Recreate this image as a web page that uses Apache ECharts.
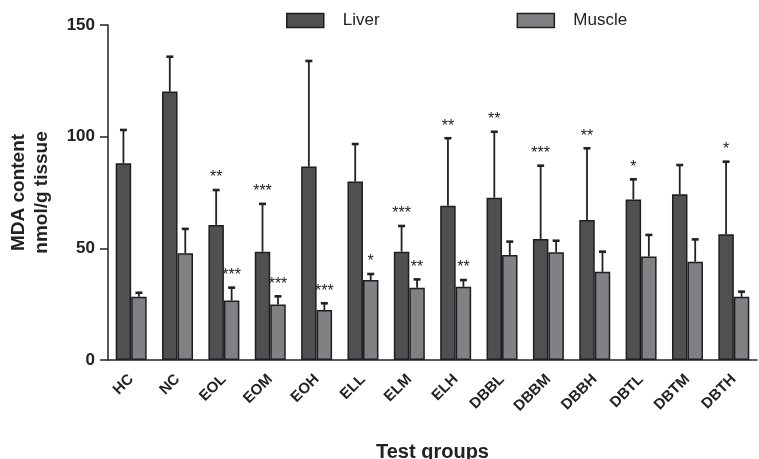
<!DOCTYPE html>
<html>
<head>
<meta charset="utf-8">
<script src="https://cdn.jsdelivr.net/npm/echarts@6/dist/echarts.min.js"></script>
<style>
  html, body { margin: 0; padding: 0; background: #fff; }
  #main { width: 759px; height: 459px; }
</style>
</head>
<body>
<div id="main"></div>
<script>
var categories = ['HC', 'NC', 'EOL', 'EOM', 'EOH', 'ELL', 'ELM', 'ELH', 'DBBL', 'DBBM', 'DBBH', 'DBTL', 'DBTM', 'DBTH'];
var liver = [88.1, 120.2, 60.5, 48.5, 86.6, 79.9, 48.5, 69.1, 72.7, 54.2, 62.7, 71.9, 74.2, 56.3];
var liverErr = [14.9, 15.6, 15.6, 21.4, 47.3, 16.8, 11.5, 30.2, 29.5, 32.8, 32.1, 9.0, 13.1, 32.5];
var muscle = [28.3, 47.8, 26.6, 24.9, 22.4, 35.8, 32.4, 32.8, 47.0, 48.2, 39.5, 46.3, 44.0, 28.3];
var muscleErr = [1.8, 10.9, 5.8, 3.6, 3.0, 2.7, 3.7, 3.0, 6.0, 5.2, 9.0, 9.7, 10.0, 2.3];
var liverSig = ['', '', '**', '***', '', '', '***', '**', '**', '***', '**', '*', '', '*'];
var muscleSig = ['', '', '***', '***', '***', '*', '**', '**', '', '', '', '', '', ''];
var yTicks = [0, 50, 100, 150];

var font = 'Liberation Sans, Arial, Helvetica, sans-serif';
var chart = echarts.init(document.getElementById('main'));

function errData(vals, errs, sig) {
	return vals.map(function (v, i) {
		return [i, v, v + errs[i], sig[i]];
	});
}

// upper error bar with cap, plus significance stars
function errRender(side) {
	return function (params, api) {
		var band = api.size([1, 0])[0];
		var dx = side * band * 0.167;
		var base = api.coord([api.value(0), api.value(1)]);
		var top = api.coord([api.value(0), api.value(2)]);
		var x = base[0] + dx;
		var children = [{
			type: 'line',
			shape: { x1: x, y1: base[1], x2: x, y2: top[1] },
			style: { stroke: '#222', lineWidth: 1.8 }
		}, {
			type: 'line',
			shape: { x1: x - 3.5, y1: top[1], x2: x + 3.5, y2: top[1] },
			style: { stroke: '#222', lineWidth: 2.6 }
		}];
		var s = api.value(3);
		if (s) {
			children.push({
				type: 'text',
				x: x,
				y: top[1] - 4,
				style: {
					text: s,
					fill: '#222',
					font: '16px ' + font,
					align: 'center',
					verticalAlign: 'bottom'
				}
			});
		}
		return { type: 'group', children: children };
	};
}

var option = {
	animation: false,
	grid: { left: 108, right: 2, top: 25, bottom: 99, containLabel: false, outerBoundsMode: 'none' },
	legend: {
		top: 7,
		left: 281,
		icon: 'rect',
		itemWidth: 37,
		itemHeight: 14,
		itemGap: 137,
		itemStyle: { borderColor: '#1e1e1e', borderWidth: 1.5 },
		textStyle: { fontFamily: font, fontSize: 17, color: '#222', padding: [0, 0, 0, 14] },
		data: ['Liver', 'Muscle']
	},
	xAxis: {
		type: 'category',
		data: categories,
		name: 'Test groups',
		nameLocation: 'middle',
		nameGap: 82,
		nameTextStyle: { fontFamily: font, fontSize: 20, fontWeight: 'bold', color: '#222' },
		axisLine: { lineStyle: { color: '#222', width: 1.5 } },
		axisTick: { alignWithLabel: true, length: 8, lineStyle: { color: '#222', width: 1.5 } },
		axisLabel: { rotate: 45, margin: 17, fontFamily: font, fontSize: 15, fontWeight: 'bold', color: '#222' }
	},
	yAxis: {
		type: 'value',
		min: 0,
		max: 150,
		interval: 50,
		name: 'MDA content\nnmol/g tissue',
		nameLocation: 'middle',
		nameGap: 55,
		nameRotate: 90,
		nameTextStyle: { fontFamily: font, fontSize: 19, fontWeight: 'bold', color: '#222', lineHeight: 23 },
		axisLine: { show: true, lineStyle: { color: '#222', width: 1.5 } },
		axisTick: { show: true, length: 8, lineStyle: { color: '#222', width: 1.5 } },
		axisLabel: {
			margin: 13, fontFamily: font, fontSize: 17, fontWeight: 'bold', color: '#222',
			formatter: function (v) { return yTicks.indexOf(v) >= 0 ? String(v) : ''; }
		},
		splitLine: { show: false }
	},
	series: [{
		name: 'Liver',
		type: 'bar',
		data: liver,
		barWidth: '33.4%',
		barGap: '0%',
		itemStyle: { color: '#4f5052', borderColor: '#1e1e1e', borderWidth: 1.5 }
	}, {
		name: 'Muscle',
		type: 'bar',
		data: muscle,
		barWidth: '33.4%',
		barGap: '0%',
		itemStyle: { color: '#808184', borderColor: '#1e1e1e', borderWidth: 1.5 }
	}, {
		type: 'custom',
		renderItem: errRender(-1),
		data: errData(liver, liverErr, liverSig),
		encode: { x: 0, y: 1 },
		z: 1
	}, {
		type: 'custom',
		renderItem: errRender(1),
		data: errData(muscle, muscleErr, muscleSig),
		encode: { x: 0, y: 1 },
		z: 1
	}]
};
chart.setOption(option);
</script>
</body>
</html>
